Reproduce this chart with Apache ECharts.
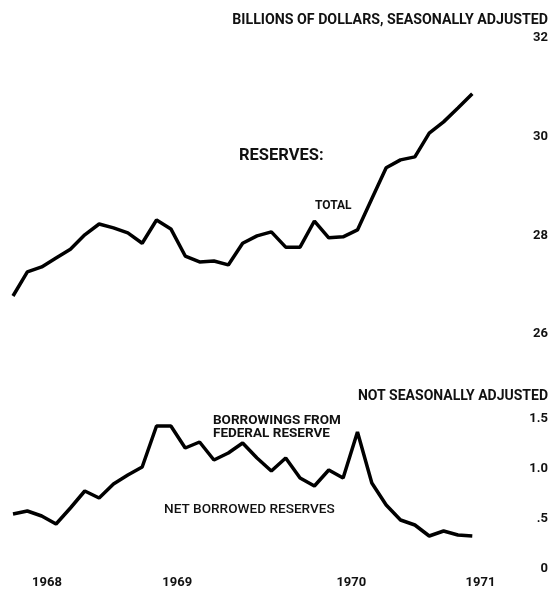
<!DOCTYPE html>
<html>
<head>
<meta charset="utf-8">
<script src="https://cdn.jsdelivr.net/npm/echarts@6/dist/echarts.min.js"></script>
<style>
  html, body { margin: 0; padding: 0; background: #fff; }
  #chart { width: 551px; height: 589px; }
</style>
</head>
<body>
<div id="chart"></div>
<script>
// observation index (33 points, early 1968 .. end 1970)
const periods = [0, 1, 2, 3, 4, 5, 6, 7, 8, 9, 10, 11, 12, 13, 14, 15, 16,
  17, 18, 19, 20, 21, 22, 23, 24, 25, 26, 27, 28, 29, 30, 31, 32]

// total reserves, billions of dollars, seasonally adjusted
const totalReserves = [26.77, 27.26, 27.36, 27.54, 27.72, 28.01, 28.23, 28.15, 28.05, 27.84,
  28.31, 28.13, 27.58, 27.46, 27.48, 27.40, 27.84, 27.99, 28.07, 27.76, 27.76, 28.29,
  27.95, 27.97, 28.11, 28.74, 29.37, 29.53, 29.59, 30.07, 30.30, 30.58, 30.87]

// borrowings from federal reserve, not seasonally adjusted
const borrowings = [0.55, 0.58, 0.53, 0.45, 0.61, 0.78, 0.71, 0.85, 0.94, 1.02,
  1.43, 1.43, 1.21, 1.27, 1.09, 1.16, 1.26, 1.11, 0.98, 1.11, 0.91, 0.83, 0.99,
  0.91, 1.37, 0.86, 0.64, 0.49, 0.44, 0.33, 0.38, 0.34, 0.33]

// year labels and where they sit on the period scale
const yearLabels = ['1968', '1969', '1970', '1971']
const yearPositions = [2.37, 11.44, 23.57, 32.57]

const topTicks = [26, 28, 30, 32]
const bottomTicks = [0, 0.5, 1.0, 1.5]
const bottomTickLabels = ['0', '.5', '1.0', '1.5']

const font = 'Roboto, "DejaVu Sans", sans-serif'

const myChart = echarts.init(document.getElementById('chart'))

const labelStyle = {
  color: '#111',
  fontFamily: font,
  fontWeight: 'bold',
  fontSize: 13
}

function txt (weight, size) {
  return weight + ' ' + size + 'px ' + font
}

const option = {
  animation: false,
  backgroundColor: '#fff',
  grid: [
    { left: 13, top: 38, width: 488, height: 296 },
    { left: 13, top: 419, width: 488, height: 150 }
  ],
  xAxis: [
    {
      gridIndex: 0, type: 'value', min: 0, max: 34,
      axisLine: { show: false }, axisTick: { show: false },
      axisLabel: { show: false }, splitLine: { show: false }
    },
    {
      gridIndex: 1, type: 'value', min: 0, max: 34,
      axisLine: { show: false }, axisTick: { show: false },
      splitLine: { show: false },
      axisLabel: Object.assign({}, labelStyle, {
        customValues: yearPositions,
        margin: 7,
        formatter: function (v) {
          let i = yearPositions.indexOf(v)
          return i >= 0 ? yearLabels[i] : ''
        }
      })
    }
  ],
  yAxis: [
    {
      gridIndex: 0, type: 'value', position: 'right',
      min: topTicks[0], max: topTicks[topTicks.length - 1], interval: 2,
      axisLine: { show: false }, axisTick: { show: false },
      splitLine: { show: false },
      axisLabel: Object.assign({}, labelStyle, { align: 'right', margin: 47 })
    },
    {
      gridIndex: 1, type: 'value', position: 'right',
      min: bottomTicks[0], max: bottomTicks[bottomTicks.length - 1], interval: 0.5,
      axisLine: { show: false }, axisTick: { show: false },
      splitLine: { show: false },
      axisLabel: Object.assign({}, labelStyle, {
        align: 'right',
        margin: 47,
        formatter: function (v) {
          let i = bottomTicks.findIndex(t => Math.abs(t - v) < 1e-6)
          return i >= 0 ? bottomTickLabels[i] : ''
        }
      })
    }
  ],
  graphic: [
    { type: 'text', right: 3, top: 13,
      style: { text: 'BILLIONS OF DOLLARS, SEASONALLY ADJUSTED', fill: '#111', font: txt('bold', 14.2) } },
    { type: 'text', left: 239, top: 147,
      style: { text: 'RESERVES:', fill: '#111', font: txt('bold', 16.5) } },
    { type: 'text', left: 315, top: 200,
      style: { text: 'TOTAL', fill: '#111', font: txt('bold', 12) } },
    { type: 'text', right: 3, top: 389,
      style: { text: 'NOT SEASONALLY ADJUSTED', fill: '#111', font: txt('bold', 14) } },
    { type: 'text', left: 213, top: 414,
      style: { text: 'BORROWINGS FROM\nFEDERAL RESERVE', fill: '#111', lineHeight: 13, font: txt('bold', 13.5) } },
    { type: 'text', left: 164, top: 503,
      style: { text: 'NET BORROWED RESERVES', fill: '#111', font: txt('500', 13.6) } }
  ],
  series: [
    {
      name: 'Total',
      type: 'line',
      xAxisIndex: 0,
      yAxisIndex: 0,
      data: periods.map((p, i) => [p, totalReserves[i]]),
      symbol: 'none',
      lineStyle: { color: '#000', width: 3.5 }
    },
    {
      name: 'Borrowings',
      type: 'line',
      xAxisIndex: 1,
      yAxisIndex: 1,
      data: periods.map((p, i) => [p, borrowings[i]]),
      symbol: 'none',
      lineStyle: { color: '#000', width: 3.5 }
    }
  ]
}

myChart.setOption(option)
</script>
</body>
</html>
